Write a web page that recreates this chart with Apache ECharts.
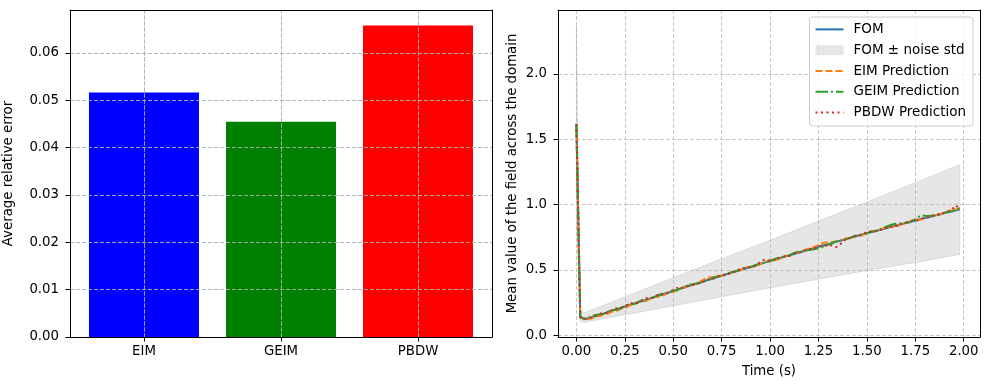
<!DOCTYPE html>
<html><head><meta charset="utf-8">
<script src="https://cdn.jsdelivr.net/npm/echarts@6/dist/echarts.min.js"></script>
<style>html,body{margin:0;padding:0;background:#fff}#c{width:989px;height:390px}</style>
</head><body><div id="c"></div>
<script>
// ---------- Left panel data ----------
const methods = ['EIM', 'GEIM', 'PBDW'];
const avgRelError = [0.0516, 0.04545, 0.06575];
const barColors = ['#0000ff', '#008000', '#ff0000'];
const errTicks = [0, 0.01, 0.02, 0.03, 0.04, 0.05, 0.06];

// ---------- Right panel data ----------
const timeTicks = [0, 0.25, 0.5, 0.75, 1.0, 1.25, 1.5, 1.75, 2.0];
const meanTicks = [0, 0.5, 1.0, 1.5, 2.0];
const time = [0,0.02,0.04,0.06,0.08,0.10,0.12,0.14,0.16,0.18,0.20,0.22,0.24,0.26,0.28,0.30,0.32,0.34,0.36,0.38,
0.40,0.42,0.44,0.46,0.48,0.50,0.52,0.54,0.56,0.58,0.60,0.62,0.64,0.66,0.68,0.70,0.72,0.74,0.76,0.78,
0.80,0.82,0.84,0.86,0.88,0.90,0.92,0.94,0.96,0.98,1.00,1.02,1.04,1.06,1.08,1.10,1.12,1.14,1.16,1.18,
1.20,1.22,1.24,1.26,1.28,1.30,1.32,1.34,1.36,1.38,1.40,1.42,1.44,1.46,1.48,1.50,1.52,1.54,1.56,1.58,
1.60,1.62,1.64,1.66,1.68,1.70,1.72,1.74,1.76,1.78,1.80,1.82,1.84,1.86,1.88,1.90,1.92,1.94,1.96,1.98];
const fom = [1.620,0.140,0.125,0.128,0.138,0.147,0.157,0.166,0.176,0.186,0.195,0.205,0.214,0.224,0.234,0.243,0.253,0.262,0.272,0.282,
0.291,0.301,0.310,0.320,0.330,0.339,0.348,0.358,0.367,0.377,0.386,0.395,0.405,0.414,0.424,0.433,0.442,0.452,0.461,0.470,
0.479,0.488,0.497,0.506,0.515,0.524,0.533,0.542,0.551,0.560,0.569,0.578,0.586,0.595,0.604,0.612,0.621,0.630,0.638,0.647,
0.656,0.664,0.673,0.681,0.690,0.698,0.706,0.715,0.723,0.731,0.740,0.748,0.756,0.765,0.773,0.781,0.789,0.797,0.804,0.812,
0.820,0.828,0.836,0.843,0.851,0.859,0.867,0.875,0.882,0.890,0.897,0.905,0.912,0.920,0.927,0.935,0.942,0.950,0.957,0.965];
const eim = [1.612,0.142,0.122,0.122,0.130,0.143,0.147,0.159,0.164,0.180,0.186,0.194,0.210,0.216,0.232,0.236,0.256,0.257,0.263,0.279,
0.293,0.295,0.300,0.316,0.329,0.332,0.345,0.363,0.365,0.381,0.383,0.397,0.413,0.429,0.442,0.445,0.448,0.450,0.464,0.466,
0.480,0.493,0.494,0.508,0.522,0.523,0.537,0.537,0.553,0.566,0.567,0.581,0.580,0.596,0.609,0.609,0.629,0.634,0.636,0.653,
0.666,0.671,0.685,0.697,0.708,0.712,0.714,0.718,0.719,0.733,0.746,0.747,0.760,0.762,0.767,0.783,0.796,0.800,0.802,0.817,
0.829,0.832,0.833,0.837,0.852,0.855,0.870,0.883,0.884,0.885,0.901,0.915,0.918,0.918,0.930,0.931,0.949,0.962,0.962,0.973];
const geim = [1.605,0.138,0.127,0.134,0.148,0.155,0.161,0.164,0.179,0.192,0.196,0.202,0.218,0.232,0.239,0.241,0.256,0.269,0.274,0.278,
0.292,0.306,0.319,0.324,0.329,0.342,0.345,0.360,0.373,0.387,0.391,0.396,0.402,0.416,0.422,0.436,0.448,0.453,0.457,0.472,
0.484,0.487,0.500,0.513,0.517,0.521,0.534,0.546,0.549,0.563,0.568,0.582,0.593,0.598,0.602,0.614,0.627,0.639,0.642,0.647,
0.652,0.656,0.663,0.669,0.681,0.693,0.705,0.718,0.721,0.735,0.739,0.750,0.762,0.768,0.771,0.782,0.794,0.796,0.807,0.820,
0.831,0.842,0.852,0.855,0.857,0.861,0.865,0.879,0.902,0.918,0.915,0.913,0.916,0.922,0.926,0.938,0.947,0.950,0.961,0.975];
const pbdw = [1.618,0.140,0.125,0.132,0.135,0.153,0.166,0.168,0.172,0.191,0.205,0.209,0.212,0.230,0.245,0.246,0.248,0.269,0.284,0.284,
0.288,0.309,0.314,0.314,0.332,0.348,0.362,0.363,0.364,0.383,0.387,0.390,0.408,0.412,0.428,0.429,0.444,0.459,0.460,0.464,
0.482,0.486,0.502,0.515,0.512,0.528,0.528,0.550,0.575,0.576,0.572,0.574,0.592,0.593,0.608,0.607,0.623,0.637,0.635,0.652,
0.654,0.670,0.669,0.684,0.684,0.688,0.688,0.675,0.693,0.723,0.745,0.745,0.760,0.763,0.779,0.791,0.792,0.793,0.806,0.809,
0.825,0.826,0.839,0.838,0.853,0.865,0.866,0.879,0.879,0.892,0.902,0.901,0.915,0.927,0.925,0.939,0.950,0.965,0.995,0.960];
const bandTime  = [0, 0.02, 0.04, 0.25, 0.50, 0.75, 1.00, 1.25, 1.50, 1.75, 1.98];
const bandUpper = [2.37, 0.19, 0.172, 0.294, 0.440, 0.586, 0.727, 0.874, 1.020, 1.168, 1.306];
const bandLower = [0.87, 0.105, 0.099, 0.157, 0.226, 0.295, 0.364, 0.430, 0.496, 0.558, 0.619];

// ---------- Chart ----------
const FONT = 'DejaVu Sans';
const FS = 13.3;
const gridStyle = {color: '#b0b0b0', width: 0.7, type: [4, 2]};
const gridLine = {show: true, lineStyle: gridStyle};
const lbl = (extra) => Object.assign({color: '#000', fontFamily: FONT, fontSize: FS}, extra);
const frameAxis = (pos, gi, min, max) => ({
  type: 'value', gridIndex: gi, position: pos, min: min, max: max, zlevel: 1,
  axisLine: {show: true, onZero: false, lineStyle: {color: '#000', width: 1}},
  axisTick: {show: false}, axisLabel: {show: false}, splitLine: {show: false}
});
const pairs = (xs, ys) => xs.map((x, i) => [x, ys[i]]);
const noDot = {color: 'rgba(0,0,0,0)', borderWidth: 0};

// grid lines of the bar panel drawn above the bars (as in the reference)
const barGridMarks = errTicks.filter(v => v > 0).map(v => ({yAxis: v}))
  .concat(methods.map((m, i) => ({xAxis: i})));

const chart = echarts.init(document.getElementById('c'), null, {renderer: 'canvas'});
chart.setOption({
  animation: false,
  backgroundColor: '#fff',
  textStyle: {fontFamily: FONT},
  grid: [
    {left: 70, top: 10, width: 422, height: 327},
    {left: 558, top: 10, width: 422, height: 327}
  ],
  xAxis: [
    {
      type: 'value', gridIndex: 0, min: -0.54, max: 2.54, zlevel: 1,
      axisLine: {show: true, onZero: false, lineStyle: {color: '#000', width: 1}},
      axisTick: {show: true, length: 4.5, lineStyle: {color: '#000'}, customValues: [0, 1, 2]},
      axisLabel: lbl({margin: 8, customValues: [0, 1, 2], formatter: v => methods[Math.round(v)]}),
      splitLine: gridLine
    },
    {
      type: 'value', gridIndex: 1, min: -0.095, max: 2.084, zlevel: 1,
      name: 'Time (s)', nameLocation: 'middle', nameGap: 28.5,
      nameTextStyle: {color: '#000', fontFamily: FONT, fontSize: FS},
      axisLine: {show: true, onZero: false, lineStyle: {color: '#000', width: 1}},
      axisTick: {show: true, length: 4.5, lineStyle: {color: '#000'}, customValues: timeTicks},
      axisLabel: lbl({margin: 8, customValues: timeTicks, formatter: v => v.toFixed(2)}),
      splitLine: gridLine
    },
    frameAxis('top', 0, -0.54, 2.54),
    frameAxis('top', 1, -0.095, 2.084)
  ],
  yAxis: [
    {
      type: 'value', gridIndex: 0, min: 0, max: 0.06904, zlevel: 1,
      name: 'Average relative error', nameLocation: 'middle', nameGap: 55,
      nameTextStyle: {color: '#000', fontFamily: FONT, fontSize: FS},
      axisLine: {show: true, onZero: false, lineStyle: {color: '#000', width: 1}},
      axisTick: {show: true, length: 4.5, lineStyle: {color: '#000'}, customValues: errTicks},
      axisLabel: lbl({margin: 11, customValues: errTicks, formatter: v => v.toFixed(2)}),
      splitLine: gridLine
    },
    {
      type: 'value', gridIndex: 1, min: -0.013, max: 2.49, zlevel: 1,
      name: 'Mean value of the field across the domain', nameLocation: 'middle', nameGap: 39,
      nameTextStyle: {color: '#000', fontFamily: FONT, fontSize: FS},
      axisLine: {show: true, onZero: false, lineStyle: {color: '#000', width: 1}},
      axisTick: {show: true, length: 4.5, lineStyle: {color: '#000'}, customValues: meanTicks},
      axisLabel: lbl({margin: 11, customValues: meanTicks, formatter: v => v.toFixed(1)}),
      splitLine: gridLine
    },
    frameAxis('right', 0, 0, 0.06904),
    frameAxis('right', 1, -0.013, 2.49)
  ],
  legend: {
    right: 16, top: 17, orient: 'vertical', zlevel: 3,
    itemWidth: 28, itemHeight: 10, itemGap: 0,
    padding: [2, 7, 3, 5],
    backgroundColor: 'rgba(255,255,255,0.8)', borderColor: '#cccccc', borderWidth: 1, borderRadius: 3,
    textStyle: {color: '#000', fontFamily: FONT, fontSize: 13.5, lineHeight: 20.8, padding: [0, 0, 0, 5]},
    data: [
      {name: 'FOM', itemStyle: noDot},
      {name: 'FOM ± noise std', icon: 'rect', itemStyle: {color: 'rgba(128,128,128,0.2)', borderWidth: 0}},
      {name: 'EIM Prediction', itemStyle: noDot},
      {name: 'GEIM Prediction', itemStyle: noDot},
      {name: 'PBDW Prediction', itemStyle: noDot}
    ]
  },
  series: [
    {
      type: 'bar', xAxisIndex: 0, yAxisIndex: 0, barWidth: 110, z: 1,
      data: avgRelError.map((v, i) => ({value: [i, v], itemStyle: {color: barColors[i]}})),
      markLine: {
        silent: true, symbol: ['none', 'none'], label: {show: false},
        lineStyle: gridStyle, emphasis: {disabled: true},
        data: barGridMarks
      }
    },
    {
      name: 'FOM', type: 'line', xAxisIndex: 1, yAxisIndex: 1, zlevel: 2, symbol: 'none',
      color: '#1f77b4', lineStyle: {color: '#1f77b4', width: 2},
      data: pairs(time, fom)
    },
    {
      name: 'FOM ± noise std', type: 'custom', xAxisIndex: 1, yAxisIndex: 1, z: 1, clip: true,
      color: 'rgba(128,128,128,0.2)',
      data: bandTime.map((t, i) => [t, bandLower[i], bandUpper[i]]),
      encode: {x: 0, y: [1, 2]},
      renderItem: function (params, api) {
        if (params.dataIndex !== 0) return;
        const pts = [];
        for (let i = 0; i < bandTime.length; i++) pts.push(api.coord([bandTime[i], bandUpper[i]]));
        for (let i = bandTime.length - 1; i >= 0; i--) pts.push(api.coord([bandTime[i], bandLower[i]]));
        return {type: 'polygon', shape: {points: pts},
          style: {fill: 'rgba(128,128,128,0.2)', stroke: 'rgba(128,128,128,0.2)', lineWidth: 1}};
      }
    },
    {
      name: 'EIM Prediction', type: 'line', xAxisIndex: 1, yAxisIndex: 1, zlevel: 2, z: 3, symbol: 'none',
      color: '#ff7f0e', lineStyle: {color: '#ff7f0e', width: 2, type: [7, 3]},
      data: pairs(time, eim)
    },
    {
      name: 'GEIM Prediction', type: 'line', xAxisIndex: 1, yAxisIndex: 1, zlevel: 2, z: 4, symbol: 'none',
      color: '#2ca02c', lineStyle: {color: '#2ca02c', width: 2, type: [12.5, 3, 2, 3]},
      data: pairs(time, geim)
    },
    {
      name: 'PBDW Prediction', type: 'line', xAxisIndex: 1, yAxisIndex: 1, zlevel: 2, z: 5, symbol: 'none',
      color: '#d62728', lineStyle: {color: '#d62728', width: 2, type: [2, 3.5]},
      data: pairs(time, pbdw)
    }
  ]
});
</script></body></html>
